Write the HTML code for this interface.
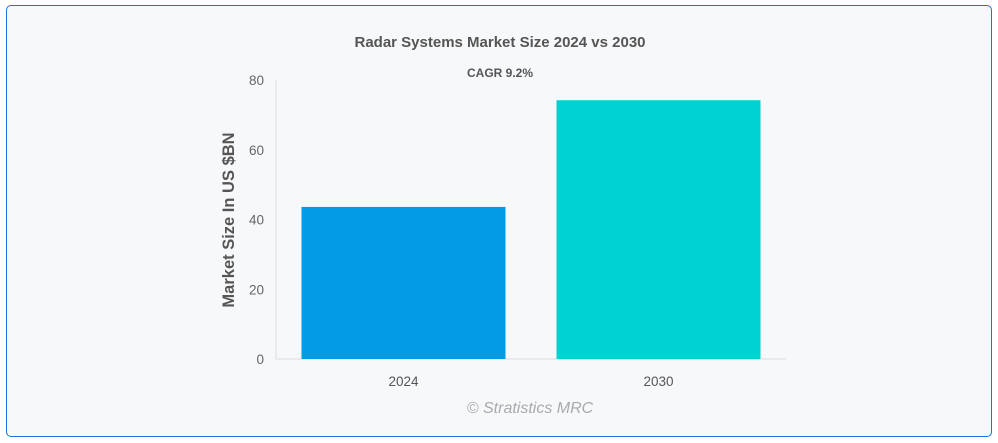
<!DOCTYPE html>
<html><head><meta charset="utf-8"><style>
html,body{margin:0;padding:0;background:#fff;}
body{width:998px;height:443px;position:relative;overflow:hidden;font-family:"Liberation Sans",sans-serif;}
#frame{position:absolute;left:6px;top:5px;width:986px;height:432px;border:1.5px solid #1f6fe0;border-radius:5px;background:#f7f8fa;box-sizing:border-box;}
</style></head><body>
<div id="frame"></div>
<svg id="chart" width="998" height="443" style="position:absolute;left:0;top:0">
<text x="500" y="47" text-anchor="middle" font-size="15" font-weight="bold" fill="#555">Radar Systems Market Size 2024 vs 2030</text>
<text x="500" y="77" text-anchor="middle" font-size="12" font-weight="bold" fill="#555">CAGR 9.2%</text>
<text transform="translate(234,220) rotate(-90)" text-anchor="middle" font-size="16.5" font-weight="bold" fill="#555">Market Size In US $BN</text>
<text x="530" y="413" text-anchor="middle" font-size="16" font-style="italic" fill="#aaa">© Stratistics MRC</text>
<g id="plot"></g>
</svg>
<script>
const categories = ["2024", "2030"];
const values = [43.6, 74.2];
const yTicks = [0, 20, 40, 60, 80];
const colors = ["#039be5", "#00d2d3"];
const x0 = 276, x1 = 786, y0 = 359, y1 = 80, yMax = 80;
const ys = v => y0 - (v / yMax) * (y0 - y1);
const band = (x1 - x0) / categories.length;
const xs = i => x0 + band * i + band / 2;
const NS = "http://www.w3.org/2000/svg";
const g = document.getElementById("plot");
function mk(tag, attrs) { const e = document.createElementNS(NS, tag); for (const k in attrs) e.setAttribute(k, attrs[k]); g.appendChild(e); return e; }
let l = mk("line", {x1: x0, x2: x0, y1: y1, y2: y0, stroke: "#ddd"});


l = mk("line", {x1: x0, x2: x1, y1: y0, y2: y0, stroke: "#ddd"});


yTicks.forEach(t => {
  const e = mk("text", {x: 264, y: ys(t) + 5, "text-anchor": "end", "font-size": 13.5, fill: "#666"});
  e.textContent = t;
  
  
});
const bw = 204;
categories.forEach((c, i) => {
  const r = mk("rect", {x: xs(i) - bw / 2, y: ys(values[i]), width: bw, height: y0 - ys(values[i]), fill: colors[i]});
  
  
  const t = mk("text", {x: xs(i), y: 386, "text-anchor": "middle", "font-size": 13.5, fill: "#555"});
  t.textContent = c;
  
  
});
</script>
</body></html>
